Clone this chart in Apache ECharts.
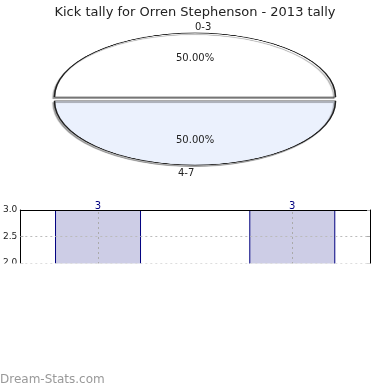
<!DOCTYPE html>
<html>
<head>
<meta charset="utf-8">
<script src="https://cdn.jsdelivr.net/npm/echarts@6/dist/echarts.min.js"></script>
<style>
html,body{margin:0;padding:0;background:#fff;}
#wrap{position:relative;width:390px;height:390px;overflow:hidden;background:#fff;}
#pie{position:absolute;left:0;top:-96px;width:390px;height:390px;transform:scaleY(0.4555);transform-origin:50% 50%;}
#main{position:absolute;left:0;top:0;width:390px;height:390px;}
</style>
</head>
<body>
<div id="wrap"><div id="pie"></div><div id="main"></div></div>
<script>
// ---- data ----
const titleText = 'Kick tally for Orren Stephenson - 2013 tally';
const pieCategories = ['0-3', '4-7'];
const pieValues = [3, 3];
const pieColors = ['#ffffff', '#ebf1fd'];
const barPositions = [0, 1];
const barValues = [3, 3];
const watermark = 'Dream-Stats.com';

const FONT = 'DejaVu Sans';
const total = pieValues.reduce((a, b) => a + b, 0);
const pct = pieValues.map(v => (v / total * 100).toFixed(2) + '%');

// ---- pie (drawn circular, squashed into an ellipse by CSS) ----
const pieChart = echarts.init(document.getElementById('pie'), null, {renderer: 'canvas'});
pieChart.setOption({
  animation: false,
  series: [{
    type: 'pie',
    center: ['50%', '50%'],
    radius: 140.5,
    startAngle: 180,
    clockwise: true,
    selectedMode: 'multiple',
    selectedOffset: 4.4,
    label: {show: false},
    labelLine: {show: false},
    emphasis: {disabled: true},
    data: pieCategories.map((c, i) => ({
      name: c, value: pieValues[i], selected: true,
      itemStyle: {
        color: pieColors[i], borderColor: '#222', borderWidth: 1.6,
        shadowColor: 'rgba(0,0,0,0.3)', shadowBlur: 1, shadowOffsetX: -1.5, shadowOffsetY: 3.5
      }
    }))
  }]
});

// ---- main chart ----
const chart = echarts.init(document.getElementById('main'), null, {renderer: 'canvas'});
const textStyle = {fontFamily: FONT, fontSize: 10, fill: '#222'};
const frameAxis = {
  axisLine: {show: true, onZero: false, lineStyle: {color: '#000', width: 1}},
  axisTick: {show: false}, axisLabel: {show: false}, splitLine: {show: false}, z: 5
};
chart.setOption({
  animation: false,
  backgroundColor: 'transparent',
  textStyle: {fontFamily: FONT},
  title: {
    text: titleText, left: 'center', top: 1,
    textStyle: {fontFamily: FONT, fontSize: 13, fontWeight: 'normal', color: '#222'}
  },
  grid: {left: 20, top: 210, width: 350, height: 159, show: false},
  xAxis: [
    {type: 'value', min: -0.4, max: 1.4,
     axisLine: {show: false}, axisTick: {show: false}, axisLabel: {show: false}, splitLine: {show: false}},
    Object.assign({type: 'value', position: 'top', min: -0.4, max: 1.4}, frameAxis)
  ],
  yAxis: [
    {type: 'value', min: 0, max: 3, interval: 0.5, z: 3,
     axisLine: {show: true, onZero: false, lineStyle: {color: '#000'}},
     axisTick: {show: true, inside: true, length: 3, lineStyle: {color: '#aaa'}},
     axisLabel: {fontFamily: FONT, fontSize: 9, color: '#222', margin: 3, formatter: v => v.toFixed(1)},
     splitLine: {show: true, lineStyle: {color: '#bbb', type: [2, 3], width: 1}}},
    Object.assign({type: 'value', position: 'right', min: 0, max: 3, interval: 0.5}, frameAxis,
      {axisTick: {show: true, inside: true, length: 3, lineStyle: {color: '#aaa'}}})
  ],
  series: [{
    type: 'bar',
    barWidth: 86,
    xAxisIndex: 0, yAxisIndex: 0,
    data: barPositions.map((x, i) => [x, barValues[i]]),
    itemStyle: {color: '#cdcde6', borderColor: '#000080', borderWidth: 1},
    label: {show: true, position: 'top', distance: -1, color: '#000080', fontFamily: FONT, fontSize: 10, formatter: p => String(p.value[1])},
    emphasis: {disabled: true},
    markLine: {
      silent: true, symbol: 'none', label: {show: false},
      lineStyle: {color: '#aaa', type: [2, 3], width: 1},
      data: barPositions.map(x => ({xAxis: x}))
    }
  }],
  graphic: [
    {type: 'text', left: 195, top: 22, style: Object.assign({}, textStyle, {text: pieCategories[0]}), z: 10},
    {type: 'text', left: 178, top: 168, style: Object.assign({}, textStyle, {text: pieCategories[1]}), z: 10},
    {type: 'text', left: 176, top: 53, style: Object.assign({}, textStyle, {text: pct[0]}), z: 10},
    {type: 'text', left: 176, top: 135, style: Object.assign({}, textStyle, {text: pct[1]}), z: 10},
    {type: 'rect', shape: {x: 0, y: 263.5, width: 390, height: 130}, style: {fill: '#fff'}, z: 100},
    {type: 'text', left: 0, top: 374, style: {text: watermark, fontFamily: FONT, fontSize: 12, fill: '#999'}, z: 101}
  ]
});
</script>
</body>
</html>
